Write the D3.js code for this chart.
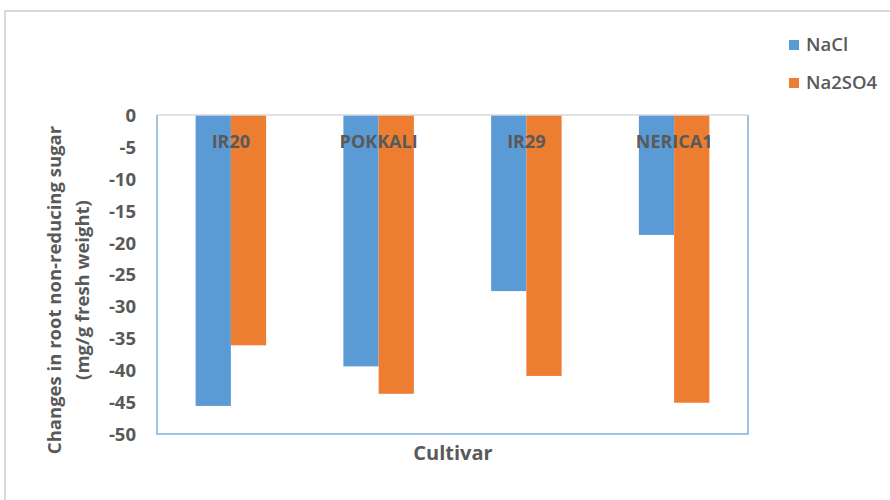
<!DOCTYPE html>
<html>
<head>
<meta charset="utf-8">
<script src="https://cdn.jsdelivr.net/npm/d3@7"></script>
<style>
  html, body { margin: 0; padding: 0; background: #fff; }
  svg { display: block; font-family: "Open Sans", sans-serif; }
</style>
</head>
<body>
<svg id="chart" width="890" height="500"></svg>
<script>
// Cultivars and the change in root non-reducing sugar under each salt
const cultivars = ["IR20", "POKKALI", "IR29", "NERICA1"];
const seriesNames = ["NaCl", "Na2SO4"];
const naclValues = [-45.6, -39.4, -27.6, -18.8];
const na2so4Values = [-36.1, -43.7, -40.9, -45.1];
const yTicks = [0, -5, -10, -15, -20, -25, -30, -35, -40, -45, -50];

const colors = { "NaCl": "#5B9BD5", "Na2SO4": "#ED7D31" };
const textGray = "#595959";

const rows = cultivars.map((c, i) => ({
  cultivar: c,
  values: [
    { series: "NaCl", value: naclValues[i] },
    { series: "Na2SO4", value: na2so4Values[i] }
  ]
}));

const svg = d3.select("#chart");

// outer chart frame
svg.append("rect")
  .attr("x", 5).attr("y", 11)
  .attr("width", 1000).attr("height", 1000)
  .attr("fill", "#fff")
  .attr("stroke", "#d9d9d9").attr("stroke-width", 2);

const plot = { left: 157, right: 748, top: 115, bottom: 434 };

const x0 = d3.scaleBand()
  .domain(cultivars)
  .range([plot.left, plot.right])
  .paddingInner(0.523)
  .paddingOuter(0.2615);

const x1 = d3.scaleBand()
  .domain(seriesNames)
  .range([0, x0.bandwidth()]);

const y = d3.scaleLinear()
  .domain([-50, 0])
  .range([plot.bottom, plot.top]);

// plot-area border (left, bottom, right)
svg.append("path")
  .attr("d", `M${plot.left},${plot.top}V${plot.bottom}H${plot.right}V${plot.top}`)
  .attr("fill", "none")
  .attr("stroke", "#7FB0DD")
  .attr("stroke-width", 1.5);

// bars
const groups = svg.append("g").selectAll("g")
  .data(rows)
  .join("g")
  .attr("transform", d => `translate(${x0(d.cultivar)},0)`);

groups.selectAll("rect")
  .data(d => d.values)
  .join("rect")
  .attr("x", d => x1(d.series))
  .attr("y", y(0))
  .attr("width", x1.bandwidth())
  .attr("height", d => y(d.value) - y(0))
  .attr("fill", d => colors[d.series]);

// zero line (category axis)
svg.append("line")
  .attr("x1", plot.left).attr("x2", plot.right)
  .attr("y1", y(0)).attr("y2", y(0))
  .attr("stroke", "#d9d9d9").attr("stroke-width", 1.5);

// category labels sit just under the zero line
const xAxis = d3.axisTop(x0).tickSize(0).tickPadding(0);
const xg = svg.append("g")
  .attr("transform", `translate(0,${y(0) + 33})`)
  .call(xAxis);
xg.select(".domain").remove();
xg.selectAll("text")
  .attr("font-family", "'Open Sans', sans-serif")
  .attr("font-size", 18)
  .attr("font-weight", "bold")
  .attr("fill", textGray);

// value axis
const yAxis = d3.axisLeft(y).tickValues(yTicks).tickSize(0).tickPadding(0)
  .tickFormat(d3.format("d"));
const yg = svg.append("g")
  .attr("transform", `translate(136,0)`)
  .call(yAxis);
yg.select(".domain").remove();
yg.selectAll("text")
  .attr("font-family", "'Open Sans', sans-serif")
  .attr("font-size", 18.5)
  .attr("font-weight", "bold")
  .attr("fill", textGray)
  .attr("dy", "0.35em")
  .text(d => d === 0 ? "0" : d3.format("d")(d).replace("−", "-"));

// axis titles
const yTitle = svg.append("text")
  .attr("transform", "translate(61,290) rotate(-90)")
  .attr("text-anchor", "middle")
  .attr("font-size", 18.5)
  .attr("font-weight", "bold")
  .attr("fill", textGray);
yTitle.append("tspan").attr("x", 0).attr("y", 0)
  .text("Changes in root non-reducing sugar");
yTitle.append("tspan").attr("x", 0).attr("y", 28)
  .text("(mg/g fresh weight)");

svg.append("text")
  .attr("x", 453).attr("y", 460)
  .attr("text-anchor", "middle")
  .attr("font-size", 20)
  .attr("font-weight", "bold")
  .attr("fill", textGray)
  .text("Cultivar");

// legend
const legend = svg.append("g").selectAll("g")
  .data(seriesNames)
  .join("g")
  .attr("transform", (d, i) => `translate(789,${40 + i * 38})`);
legend.append("rect")
  .attr("width", 10).attr("height", 10)
  .attr("fill", d => colors[d]);
legend.append("text")
  .attr("x", 17).attr("y", 11)
  .attr("font-size", 18.5)
  .attr("font-weight", 600)
  .attr("fill", textGray)
  .text(d => d);
</script>
</body>
</html>
